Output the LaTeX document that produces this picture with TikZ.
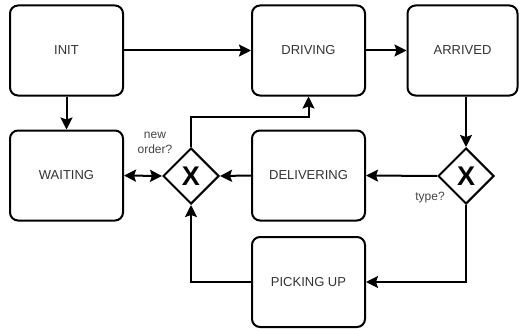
\documentclass[tikz,border=0pt]{standalone}
\usepackage{fontspec}
\setmainfont{Liberation Sans}
\usetikzlibrary{shapes.geometric,arrows.meta}
\definecolor{txt}{HTML}{333333}
\definecolor{lbl}{HTML}{444444}
\begin{document}
\begin{tikzpicture}[x=1pt,y=-1pt,
  state/.style={draw,line width=2pt,rounded corners=8pt,minimum width=113pt,minimum height=90pt,
    inner sep=0pt,text=txt,font=\fontsize{13}{15}\selectfont},
  gate/.style={draw,diamond,line width=2pt,minimum width=56pt,minimum height=56pt,inner sep=0pt,
    font=\fontsize{27}{27}\selectfont\bfseries},
  tip/.tip={Stealth[length=12pt,width=12pt,inset=2pt]},
  flow/.style={line width=2pt,-tip},
  lab/.style={text=lbl,font=\fontsize{12}{15}\selectfont,align=center,inner sep=0pt}]
\useasboundingbox (0,0) rectangle (519,329);
\node[state] (init) at (66.5,50.5) {INIT};
\node[state] (driving) at (308.5,50.5) {DRIVING};
\node[state,minimum width=110pt] (arrived) at (462.5,50.5) {ARRIVED};
\node[state] (waiting) at (66.5,175.5) {WAITING};
\node[state] (delivering) at (308.5,175.5) {DELIVERING};
\node[state] (picking) at (308.5,282) {PICKING UP};
\node[gate] (d1) at (191,176) {X};
\node[gate] (d2) at (466,176) {X};
\node[lab] (l1) at (155,142.5) {new\\order?};
\node[lab] (l2) at (430,198) {type?};
\coordinate (turn) at (191,117);
\draw[flow] (init.east) -- (driving.west);
\draw[flow] (driving.east) -- (arrived.west);
\draw[flow] (init.south) -- (waiting.north);
\draw[flow] (d2.north |- arrived.south) -- (d2.north);
\draw[flow] (d2.west) -- (delivering.east);
\draw[flow] (d2.south) |- (picking.east);
\draw[flow] (delivering.west) -- (d1.east);
\draw[flow] (picking.west) -| (d1.south);
\draw[flow] (d1.north) -- (turn) -| (driving.south);
\draw[flow,tip-tip] (waiting.east) -- (d1.west);
\end{tikzpicture}
\end{document}
